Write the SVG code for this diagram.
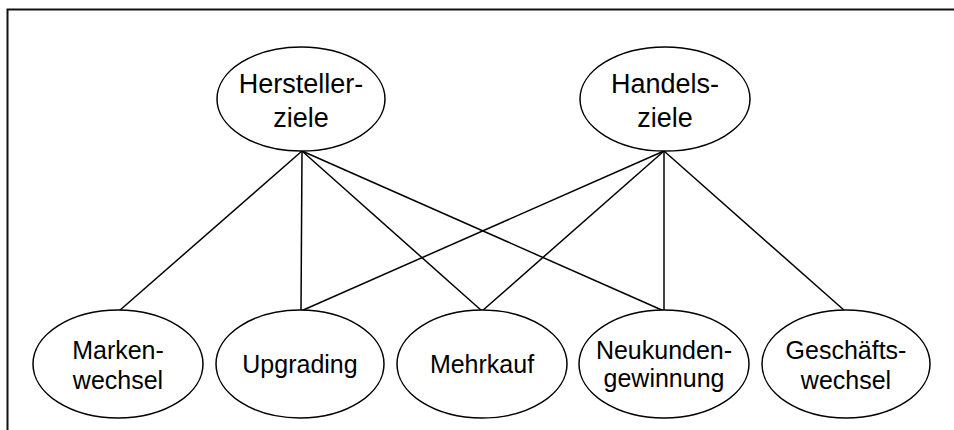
<svg xmlns="http://www.w3.org/2000/svg" width="954" height="430" viewBox="0 0 954 430">
<style>
.n{fill:#fff;stroke:#000;stroke-width:1.5}
.c line{stroke:#000;stroke-width:1.5}
.t{font-family:"Liberation Sans",Arial,sans-serif;fill:#000;text-anchor:middle}
.tt{font-size:27px}
.tb{font-size:25px}
</style>
<rect width="954" height="430" fill="#fff"/>
<g id="frame"><path d="M7.5,430 V9.5 H954" fill="none" stroke="#111" stroke-width="2"/></g>
<g class="c" id="connectors">
<line x1="302" y1="151" x2="119" y2="311"/>
<line x1="302" y1="151" x2="301" y2="311"/>
<line x1="302" y1="151" x2="482" y2="311"/>
<line x1="302" y1="151" x2="664" y2="311"/>
<line x1="664" y1="151" x2="301" y2="311"/>
<line x1="664" y1="151" x2="482" y2="311"/>
<line x1="664" y1="151" x2="664" y2="311"/>
<line x1="664" y1="151" x2="845" y2="311"/>
</g>
<g id="hersteller"><ellipse class="n" cx="301" cy="99" rx="84" ry="52"/><text class="t tt" x="301" y="93">Hersteller-</text><text class="t tt" x="301" y="127">ziele</text></g>
<g id="handels"><ellipse class="n" cx="665" cy="99" rx="85" ry="52"/><text class="t tt" x="665" y="93">Handels-</text><text class="t tt" x="665" y="127">ziele</text></g>
<g id="marken"><ellipse class="n" cx="118" cy="364" rx="85" ry="54"/><text class="t tb" x="118" y="359">Marken-</text><text class="t tb" x="118" y="389">wechsel</text></g>
<g id="upgrading"><ellipse class="n" cx="300" cy="364" rx="84" ry="54"/><text class="t tb" x="300" y="373">Upgrading</text></g>
<g id="mehrkauf"><ellipse class="n" cx="482" cy="364" rx="85" ry="54"/><text class="t tb" x="482" y="373">Mehrkauf</text></g>
<g id="neukunden"><ellipse class="n" cx="664" cy="364" rx="85" ry="54"/><text class="t tb" x="664" y="359">Neukunden-</text><text class="t tb" x="664" y="387">gewinnung</text></g>
<g id="geschaefts"><ellipse class="n" cx="846" cy="364" rx="84" ry="54"/><text class="t tb" x="846" y="359">Geschäfts-</text><text class="t tb" x="846" y="389">wechsel</text></g>
</svg>
